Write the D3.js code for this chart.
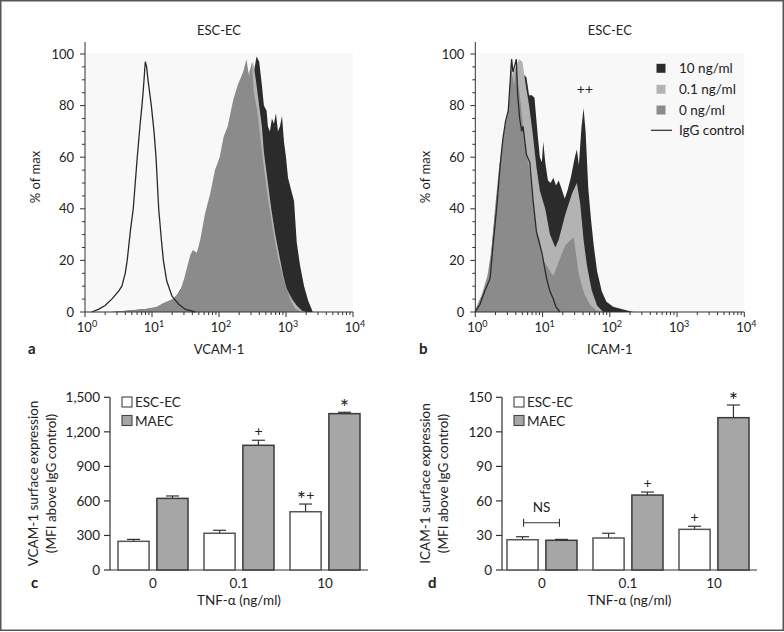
<!DOCTYPE html>
<html><head><meta charset="utf-8">
<script src="https://cdn.jsdelivr.net/npm/d3@7"></script>
<style>
body{margin:0;background:#fff}
svg{display:block}
text{font-family:Lato,"Open Sans",sans-serif;fill:#222}
</style>
</head><body>
<svg id="fig" width="784" height="632"></svg>
<script>
// ---------------- DATA ----------------
// histogram curves: [log10 fluorescence intensity, % of max]
const histYTicks = [0, 20, 40, 60, 80, 100];
const histXExponents = [0, 1, 2, 3, 4];
const histSeries = ["10 ng/ml", "0.1 ng/ml", "0 ng/ml", "IgG control"];

const vcamIgG = [[0.10,0],[0.20,1],[0.30,2.5],[0.40,5],[0.50,8],[0.55,10],[0.60,15],[0.63,20],[0.68,32],[0.72,40],[0.75,50],[0.78,60],[0.82,72],[0.85,80],[0.87,86],[0.90,97],[0.92,95],[0.94,90],[0.96,86],[0.99,80],[1.03,70],[1.06,60],[1.10,40],[1.14,28],[1.17,20],[1.22,12],[1.30,6],[1.40,3],[1.50,1],[1.65,0]];
const vcam0 = [[0.40,0],[0.67,0.5],[0.90,1.2],[1.07,2],[1.17,3.5],[1.31,5],[1.42,8],[1.48,13],[1.52,17],[1.57,22],[1.61,24],[1.67,23],[1.72,28],[1.79,38],[1.87,46],[1.94,55],[2.01,60],[2.07,68],[2.13,72],[2.21,82],[2.28,88],[2.36,93],[2.41,98],[2.45,91],[2.49,97],[2.52,85],[2.57,78],[2.66,58],[2.73,44],[2.81,31],[2.88,21],[2.96,13],[3.06,5],[3.13,1.5],[3.21,0]];
const vcam01 = [[0.40,0],[0.90,1],[1.27,3],[1.42,7],[1.57,18],[1.72,25],[1.87,42],[2.01,56],[2.16,70],[2.31,84],[2.43,92],[2.51,97],[2.55,90],[2.58,84],[2.64,72],[2.67,62],[2.72,52],[2.78,40],[2.84,30],[2.90,22],[2.96,14],[3.01,9],[3.09,5],[3.16,2.5],[3.24,0.5],[3.30,0]];
const vcam10 = [[0.40,0],[1.27,2],[1.57,15],[1.87,38],[2.16,66],[2.36,85],[2.48,92],[2.52,93],[2.56,99],[2.60,97],[2.64,88],[2.67,80],[2.71,78],[2.73,72],[2.76,70],[2.79,75],[2.82,73],[2.85,77],[2.88,70],[2.91,72],[2.94,76],[2.97,66],[3.00,60],[3.03,52],[3.07,48],[3.12,43],[3.16,27],[3.21,18],[3.27,10],[3.33,4.5],[3.40,0]];

const icamIgG = [[0.00,0],[0.02,1],[0.07,3],[0.14,8],[0.22,13],[0.26,25],[0.32,41],[0.37,57],[0.41,67],[0.45,74],[0.49,78],[0.52,90],[0.54,98],[0.56,93],[0.59,96],[0.61,98],[0.63,84],[0.66,75],[0.69,70],[0.71,72],[0.76,61],[0.81,58],[0.86,43],[0.91,31],[0.99,23],[1.06,13],[1.11,8],[1.16,5],[1.20,2],[1.26,0]];
const icam0 = [[0.00,0],[0.02,2],[0.10,7],[0.18,14],[0.24,24],[0.30,42],[0.35,55],[0.40,65],[0.45,73],[0.50,80],[0.53,97],[0.55,92],[0.58,88],[0.61,97.7],[0.63,90],[0.68,80],[0.73,66],[0.81,54],[0.86,43],[0.91,31],[0.96,28],[0.99,21],[1.06,18],[1.16,14],[1.24,19.5],[1.34,26],[1.46,29],[1.48,26],[1.53,16],[1.58,10.5],[1.63,6.5],[1.71,2.6],[1.80,0.6],[1.90,0]];
const icam01 = [[0.00,0],[0.10,6],[0.20,13],[0.30,40],[0.40,64],[0.50,78],[0.55,92],[0.60,95],[0.65,98],[0.70,97],[0.75,88],[0.80,80],[0.85,70],[0.91,56],[0.96,47],[1.04,40],[1.11,30],[1.19,25],[1.24,28],[1.34,38],[1.44,46],[1.51,50],[1.56,42],[1.61,28],[1.66,18],[1.73,8.5],[1.81,2.5],[1.90,0]];
const icam10 = [[0.00,0],[0.10,6],[0.20,13],[0.30,40],[0.40,64],[0.50,78],[0.60,92],[0.66,96],[0.72,92],[0.76,91],[0.80,84],[0.84,84],[0.88,83],[0.93,68],[0.96,60],[0.99,58],[1.01,66],[1.04,58],[1.08,51],[1.12,50],[1.16,52],[1.20,49],[1.24,51],[1.28,48],[1.33,44],[1.37,47],[1.42,52],[1.48,60],[1.51,63],[1.54,57],[1.58,72],[1.61,79],[1.64,70],[1.68,48],[1.72,36],[1.76,26],[1.81,16],[1.88,8],[1.95,4],[2.05,2],[2.20,1],[2.35,0]];

// bar charts
const doseLabels = ["0", "0.1", "10"];
const cellTypes = ["ESC-EC", "MAEC"];
const vcamTicks = [0, 300, 600, 900, 1200, 1500];
const vcamEsc = [249, 319, 506];
const vcamEscSem = [17, 26, 67];
const vcamMaec = [622, 1083, 1358];
const vcamMaecSem = [21, 44, 12];
const vcamMarks = [["0.1","MAEC","+"],["10","ESC-EC","*+"],["10","MAEC","*"]];

const icamTicks = [0, 30, 60, 90, 120, 150];
const icamEsc = [26.3, 27.8, 35.3];
const icamEscSem = [2.6, 4.1, 2.7];
const icamMaec = [25.8, 65.1, 132.3];
const icamMaecSem = [0.8, 2.6, 11];
const icamMarks = [["0.1","MAEC","+"],["10","ESC-EC","+"],["10","MAEC","*"]];

// ---------------- DRAW ----------------
const svg = d3.select("#fig");
const ink = "#333";
const fills = {"10 ng/ml":"#2b2b2b","0.1 ng/ml":"#b3b3b3","0 ng/ml":"#8b8b8b"};

svg.append("rect").attr("x",0.75).attr("y",0.75).attr("width",782.5).attr("height",629.5)
  .attr("fill","none").attr("stroke","#555").attr("stroke-width",1.5);

function hist(cfg){
  const x = d3.scaleLog().domain([1,1e4]).range([cfg.x0,cfg.x1]);
  const y = d3.scaleLinear().domain([0,100]).range([312,54]);
  const g = svg.append("g");
  g.append("rect").attr("x",cfg.x0).attr("y",y(100)-1).attr("width",cfg.x1-cfg.x0).attr("height",y(0)-y(100)+1).attr("fill","#f8f8f8");
  const toPts = arr => arr.map(d => [Math.pow(10,d[0]), d[1]]);
  const area = d3.area().x(d=>x(d[0])).y0(y(0)).y1(d=>y(d[1]));
  const line = d3.line().x(d=>x(d[0])).y(d=>y(d[1]));
  [["10 ng/ml",cfg.s10],["0.1 ng/ml",cfg.s01],["0 ng/ml",cfg.s0]].forEach(([k,arr])=>{
    g.append("path").attr("d",area(toPts(arr))).attr("fill",fills[k]);
  });
  g.append("path").attr("d",line(toPts(cfg.igg))).attr("fill","none").attr("stroke","#2a2a2a").attr("stroke-width",1.3);
  // y axis
  g.append("line").attr("x1",cfg.x0).attr("x2",cfg.x0).attr("y1",y(0)).attr("y2",42).attr("stroke",ink);
  d3.range(0,101,5).forEach(v=>{
    const major = v%20===0;
    g.append("line").attr("x1",cfg.x0-(major?5:3)).attr("x2",cfg.x0).attr("y1",y(v)).attr("y2",y(v)).attr("stroke",ink);
  });
  g.selectAll(".yl").data(histYTicks).join("text").attr("x",cfg.x0-11).attr("y",d=>y(d)+4.5)
    .attr("text-anchor","end").attr("font-size",13).text(d=>d);
  // x axis
  g.append("line").attr("x1",cfg.x0).attr("x2",cfg.x1).attr("y1",y(0)).attr("y2",y(0)).attr("stroke",ink);
  histXExponents.forEach(e=>{
    const v=Math.pow(10,e);
    g.append("line").attr("x1",x(v)).attr("x2",x(v)).attr("y1",y(0)).attr("y2",y(0)+5).attr("stroke",ink);
    const t=g.append("text").attr("x",x(v)+2).attr("y",332).attr("text-anchor","middle").attr("font-size",13);
    t.append("tspan").text("10");
    t.append("tspan").attr("dy",-5).attr("font-size",9).text(e);
    if(e<4) for(let m=2;m<=9;m++){
      const mv=m*v;
      g.append("line").attr("x1",x(mv)).attr("x2",x(mv)).attr("y1",y(0)).attr("y2",y(0)+3).attr("stroke",ink);
    }
  });
  const cx=(cfg.x0+cfg.x1)/2;
  g.append("text").attr("x",cx).attr("y",35).attr("text-anchor","middle").attr("font-size",13).text("ESC-EC");
  g.append("text").attr("x",cx).attr("y",354).attr("text-anchor","middle").attr("font-size",13).text(cfg.xTitle);
  g.append("text").attr("transform",`translate(${cfg.x0-45},177) rotate(-90)`).attr("text-anchor","middle").attr("font-size",13).text("% of max");
  g.append("text").attr("x",cfg.letterX).attr("y",354).attr("font-size",15).attr("font-weight","bold").text(cfg.letter);
  return {g,x,y};
}

hist({x0:85,x1:353,s10:vcam10,s01:vcam01,s0:vcam0,igg:vcamIgG,xTitle:"VCAM-1",letter:"a",letterX:28});
const hb = hist({x0:475.3,x1:744.3,s10:icam10,s01:icam01,s0:icam0,igg:icamIgG,xTitle:"ICAM-1",letter:"b",letterX:419});

// legend in b
const lg = hb.g.append("g");
histSeries.forEach((s,i)=>{
  const cy=[68.3,89.3,110,130.3][i];
  if(i<3) lg.append("rect").attr("x",656.5).attr("y",cy-4.5).attr("width",9).attr("height",9).attr("fill",fills[s]);
  else lg.append("line").attr("x1",651).attr("x2",672).attr("y1",cy).attr("y2",cy).attr("stroke","#2a2a2a").attr("stroke-width",1.2);
  lg.append("text").attr("x",679).attr("y",cy+4.8).attr("font-size",13.5).text(s);
});
// "++" annotation
hb.g.append("text").attr("x",hb.x(Math.pow(10,1.63))).attr("y",94).attr("text-anchor","middle")
  .attr("font-size",14).attr("fill","#333").text("++");

function bars(cfg){
  const y = d3.scaleLinear().domain([0,cfg.ticks[cfg.ticks.length-1]]).range([570,397.3]);
  const x = d3.scaleBand().domain(doseLabels).range([cfg.bandStart,cfg.bandStart+258]);
  const xs = d3.scaleBand().domain(cellTypes).range([8,78]).paddingInner(0.2);
  const g = svg.append("g");
  // axes
  g.append("line").attr("x1",cfg.ax).attr("x2",cfg.ax).attr("y1",570).attr("y2",y(cfg.ticks[cfg.ticks.length-1])).attr("stroke",ink).attr("stroke-width",1.2);
  g.append("line").attr("x1",cfg.ax).attr("x2",cfg.axEnd).attr("y1",570).attr("y2",570).attr("stroke",ink).attr("stroke-width",1.2);
  cfg.ticks.forEach(v=>{
    g.append("line").attr("x1",cfg.ax-6).attr("x2",cfg.ax).attr("y1",y(v)).attr("y2",y(v)).attr("stroke",ink).attr("stroke-width",1.2);
    g.append("text").attr("x",cfg.ax-10).attr("y",y(v)+5).attr("text-anchor","end").attr("font-size",13.5).text(d3.format(",")(v));
  });
  const rows=[];
  doseLabels.forEach((d,i)=>{
    rows.push({dose:d,type:"ESC-EC",v:cfg.esc[i],e:cfg.escSem[i]});
    rows.push({dose:d,type:"MAEC",v:cfg.maec[i],e:cfg.maecSem[i]});
  });
  const bx = r => x(r.dose)+xs(r.type);
  rows.forEach(r=>{
    const cx=bx(r)+xs.bandwidth()/2;
    g.append("line").attr("x1",cx).attr("x2",cx).attr("y1",y(r.v)).attr("y2",y(r.v+r.e)).attr("stroke",ink).attr("stroke-width",1.2);
    g.append("line").attr("x1",cx-6.5).attr("x2",cx+6.5).attr("y1",y(r.v+r.e)).attr("y2",y(r.v+r.e)).attr("stroke",ink).attr("stroke-width",1.2);
    g.append("rect").attr("x",bx(r)).attr("y",y(r.v)).attr("width",xs.bandwidth()).attr("height",570-y(r.v))
      .attr("fill",r.type==="MAEC"?"#a6a6a6":"#fff").attr("stroke",r.type==="MAEC"?"#3a3a3a":"#555").attr("stroke-width",1.5);
  });
  cfg.marks.forEach(([d,t,s])=>{
    const r=rows.find(q=>q.dose===d&&q.type===t);
    const cx=bx(r)+xs.bandwidth()/2;
    const top=y(r.v+r.e);
    const tx=g.append("text").attr("x",cx).attr("y",top-4.4).attr("text-anchor","middle")
      .attr("font-family","DejaVu Sans").attr("font-size",14).attr("fill","#222");
    if(s.includes("*")){
      tx.append("tspan").attr("dy",7.4).attr("font-size",22).text("*");
      if(s.includes("+")) tx.append("tspan").attr("dy",-7.4).text("+");
    } else tx.text(s);
  });
  doseLabels.forEach(d=>{
    g.append("text").attr("x",x(d)+x.bandwidth()/2).attr("y",588).attr("text-anchor","middle").attr("font-size",13.5).text(d);
  });
  const mid=(cfg.ax+cfg.axEnd)/2;
  g.append("text").attr("x",mid).attr("y",605).attr("text-anchor","middle").attr("font-size",13.5).text("TNF-α (ng/ml)");
  g.append("text").attr("transform",`translate(${cfg.ax-72},483.5) rotate(-90)`).attr("text-anchor","middle").attr("font-size",13.5).text(cfg.yTitle);
  g.append("text").attr("transform",`translate(${cfg.ax-54},483.5) rotate(-90)`).attr("text-anchor","middle").attr("font-size",13.5).text("(MFI above IgG control)");
  g.append("text").attr("x",cfg.letterX).attr("y",588).attr("font-size",15).attr("font-weight","bold").text(cfg.letter);
  // legend
  cellTypes.forEach((c,i)=>{
    const cy=402+i*18.5;
    g.append("rect").attr("x",cfg.ax+12).attr("y",cy-5).attr("width",10).attr("height",10)
      .attr("fill",c==="MAEC"?"#a6a6a6":"#fff").attr("stroke","#444").attr("stroke-width",1.1);
    g.append("text").attr("x",cfg.ax+25).attr("y",cy+5).attr("font-size",13.5).text(c);
  });
  return {g,x,xs,y,rows,bx};
}

bars({ax:110,axEnd:368,bandStart:110,ticks:vcamTicks,esc:vcamEsc,escSem:vcamEscSem,maec:vcamMaec,maecSem:vcamMaecSem,
  marks:vcamMarks,yTitle:"VCAM-1 surface expression",letter:"c",letterX:31});
const bd = bars({ax:502,axEnd:757,bandStart:499,ticks:icamTicks,esc:icamEsc,escSem:icamEscSem,maec:icamMaec,maecSem:icamMaecSem,
  marks:icamMarks,yTitle:"ICAM-1 surface expression",letter:"d",letterX:428});

// NS bracket over dose 0 in d
{
  const r0=bd.rows.find(q=>q.dose==="0"&&q.type==="ESC-EC");
  const r1=bd.rows.find(q=>q.dose==="0"&&q.type==="MAEC");
  const xa=bd.bx(r0)+bd.xs.bandwidth()/2+1, xb=bd.bx(r1)+bd.xs.bandwidth()/2-2;
  const yl=522.7;
  bd.g.append("line").attr("x1",xa).attr("x2",xb).attr("y1",yl).attr("y2",yl).attr("stroke",ink).attr("stroke-width",1.1);
  [xa,xb].forEach(xx=>bd.g.append("line").attr("x1",xx).attr("x2",xx).attr("y1",yl-4).attr("y2",yl+4).attr("stroke",ink).attr("stroke-width",1.1));
  bd.g.append("text").attr("x",(xa+xb)/2).attr("y",512).attr("text-anchor","middle").attr("font-size",13.5).text("NS");
}
</script>
</body></html>
